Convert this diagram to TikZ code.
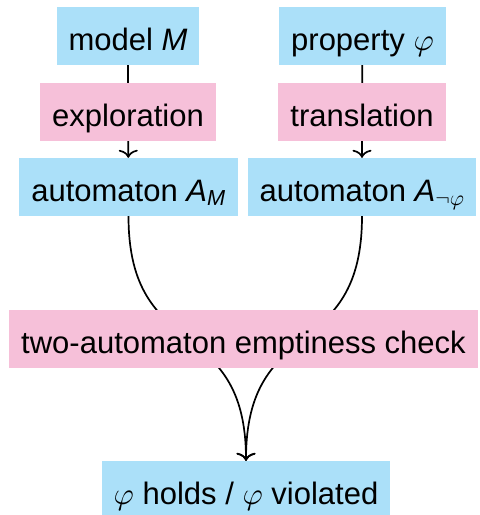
\documentclass[tikz,border=0pt]{standalone}
\usepackage{amsmath}
\usepackage{fontspec}
\setmainfont{Liberation Sans}
\DeclareFontShape{OML}{cmm}{m}{it}{<->cmmi10}{}
\DeclareFontShape{OMS}{cmsy}{m}{n}{<->cmsy10}{}
\usetikzlibrary{arrows.meta}
\definecolor{boxblue}{RGB}{171,224,249}
\definecolor{boxpink}{RGB}{246,192,217}
\begin{document}
\begin{tikzpicture}[x=1pt,y=1pt,
  box/.style={inner xsep=12pt, inner ysep=12pt, text height=31pt, text depth=3pt,
    font=\fontsize{31}{37}\selectfont},
  data/.style={box, fill=boxblue},
  proc/.style={box, fill=boxpink},
  plainline/.style={line width=1.7pt},
  conn/.style={line width=1.7pt, -{Computer Modern Rightarrow[width=19pt,length=8pt]}}]
\useasboundingbox (0,0) rectangle (480,-515);
\node[data] (model) at (128,-36) {model \textit{M}};
\node[data] (prop) at (362.5,-36) {property $\varphi$};
\node[proc] (expl) at (128,-112) {exploration};
\node[proc] (trans) at (362,-112) {translation};
\node[data] (am) at (128.5,-187) {automaton $\textit{A}_{\textit{M}}$};
\node[data] (an) at (362,-187) {automaton $\textit{A}_{\neg\varphi}$};
\node[data] (res) at (246,-490) {$\varphi$ holds / $\varphi$ violated};
\draw[plainline] (model) -- (expl);
\draw[conn] (expl) -- (am);
\draw[plainline] (prop) -- (trans);
\draw[conn] (trans) -- (an);
\draw[conn] (am.south) to[out=-90,in=90,looseness=1.4] (res.north);
\draw[conn] (an.south) to[out=-90,in=90,looseness=1.4] (res.north);
\node[proc] (check) at (243.5,-339) {two-automaton emptiness check};
\end{tikzpicture}
\end{document}
